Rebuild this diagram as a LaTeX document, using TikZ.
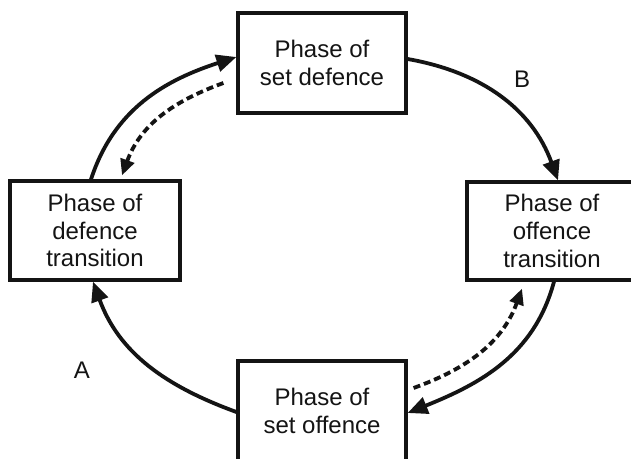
\documentclass[tikz,border=0pt]{standalone}
\usepackage{fontspec}
\setmainfont{Liberation Sans}
\usetikzlibrary{arrows.meta}
\definecolor{ink}{HTML}{141414}
\begin{document}
\begin{tikzpicture}[x=1pt,y=1pt,
  phasebox/.style={draw=ink, line width=3.2pt, align=center, inner sep=0pt,
    text=ink, font=\fontsize{24}{27.6}\selectfont},
  flow/.style={draw=ink, line width=3.8pt, -{Triangle[length=20pt,width=17pt]}},
  backflow/.style={draw=ink, line width=3.8pt, dash pattern=on 7pt off 4pt,
    -{Triangle[length=16pt,width=14pt]}},
  lbl/.style={text=ink, font=\fontsize{24}{27.6}\selectfont}]
\useasboundingbox (0,0) rectangle (631,458);
\fill[white] (0,0) rectangle (631,458);
\node[phasebox, minimum width=168pt, minimum height=100pt] (top) at (322,395) {Phase of\\set defence};
\node[phasebox, minimum width=170pt, minimum height=99pt] (left) at (95,227.5) {Phase of\\defence\\transition};
\node[phasebox, minimum width=170pt, minimum height=98pt] (right) at (552,227) {Phase of\\offence\\transition};
\node[phasebox, minimum width=168pt, minimum height=100pt] (bot) at (322,47) {Phase of\\set offence};
\node[lbl] (la) at (82,88) {A};
\node[lbl] (lb) at (522,379) {B};
% left -> top (solid)
\draw[flow] ([xshift=-4pt]left.north) to[out=72,in=198] ([yshift=6pt]top.west);
% top -> left (dashed)
\draw[backflow] ([xshift=-13pt,yshift=-20pt]top.west) to[out=200,in=70] ([xshift=27pt,yshift=4pt]left.north);
% top -> right (solid)
\draw[flow] ([yshift=4pt]top.east) to[out=-10,in=110] ([xshift=6pt]right.north);
% right -> bottom (solid)
\draw[flow] ([xshift=2pt]right.south) to[out=255,in=22] ([yshift=-2pt]bot.east);
% bottom -> right (dashed)
\draw[backflow] ([xshift=6pt,yshift=23pt]bot.east) to[out=20,in=250] ([xshift=-30pt,yshift=-7pt]right.south);
% bottom -> left (solid)
\draw[flow] ([yshift=-1pt]bot.west) to[out=160,in=290] ([xshift=-2pt]left.south);
\end{tikzpicture}
\end{document}
